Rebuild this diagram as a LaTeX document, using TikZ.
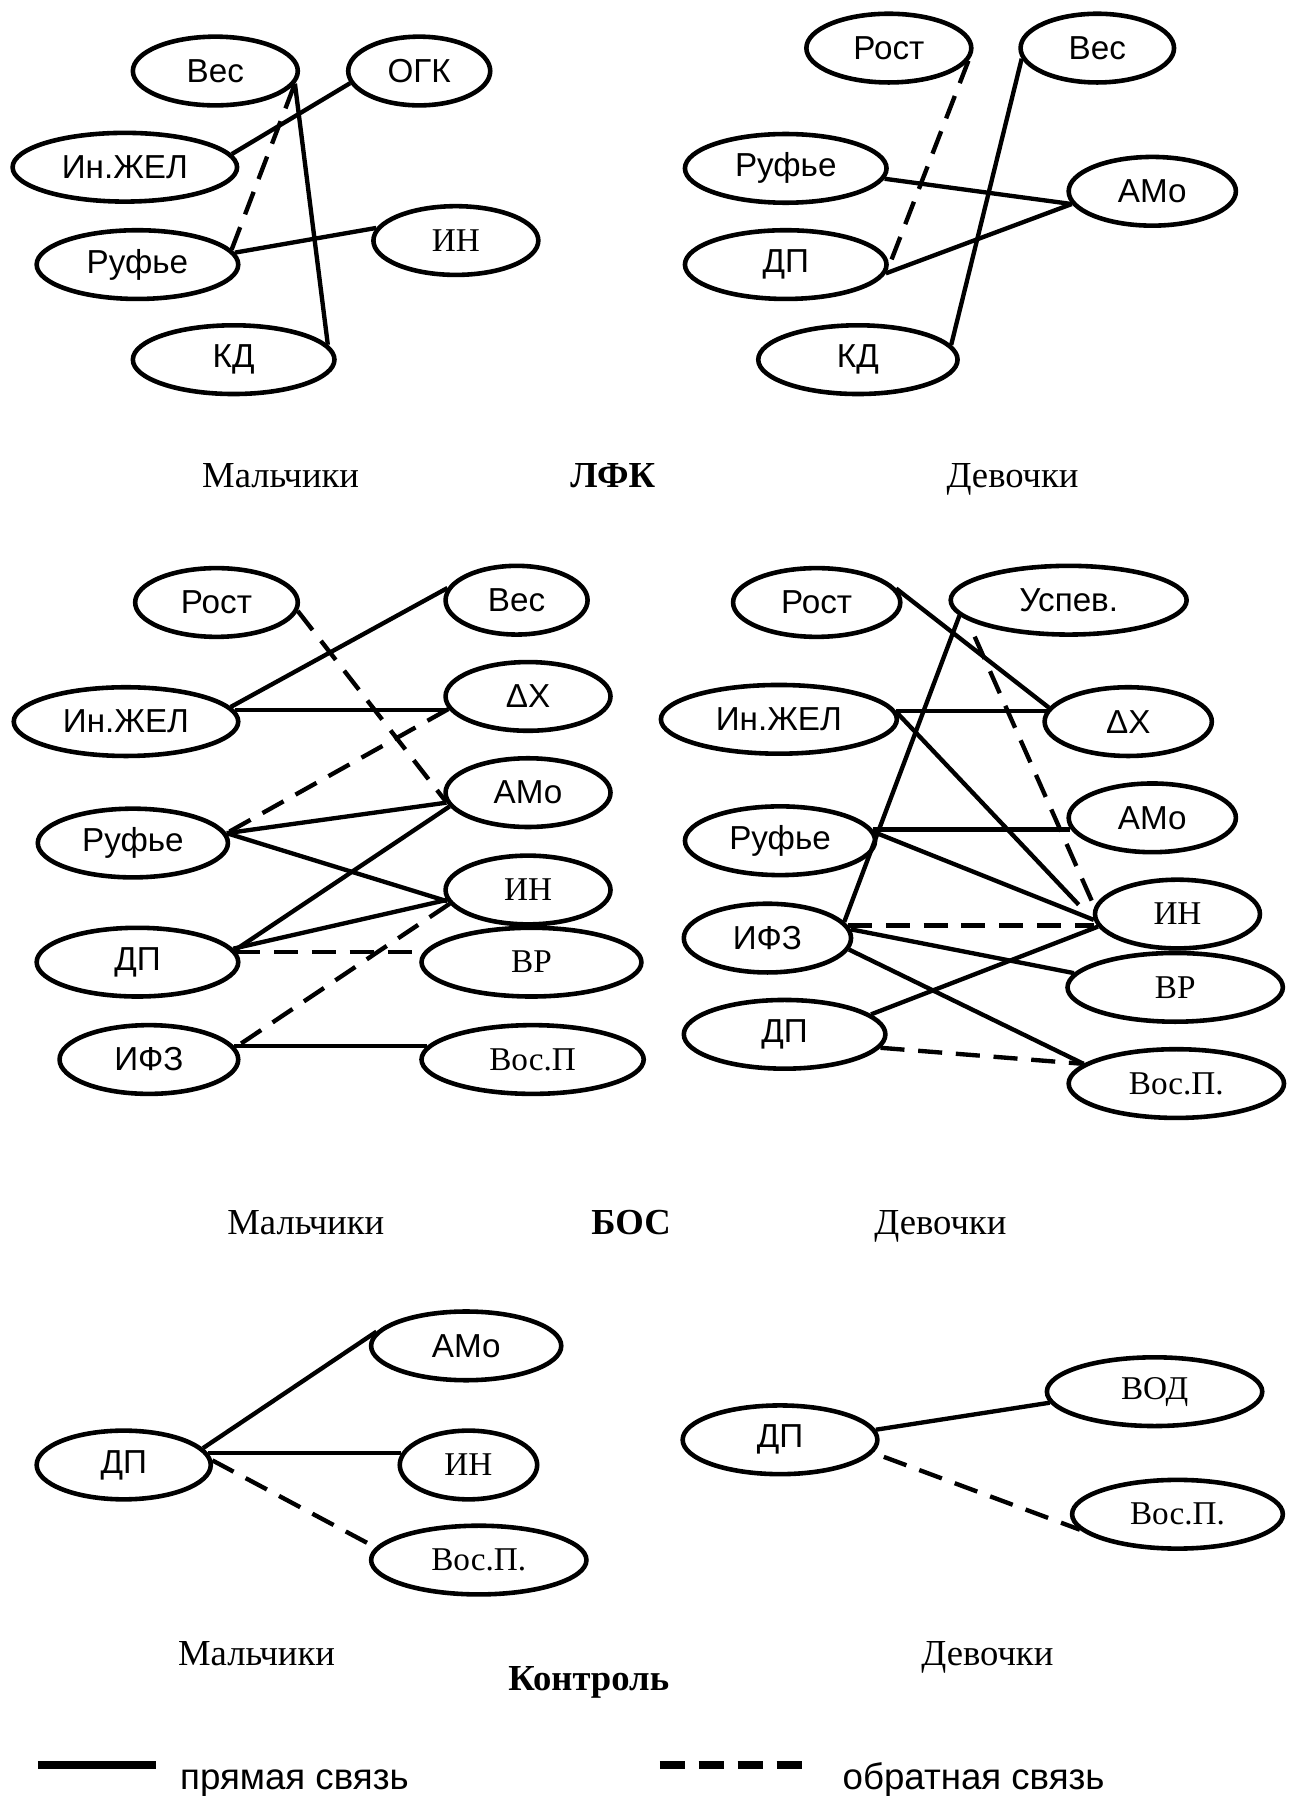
\documentclass[tikz,border=0pt]{standalone}
\usepackage{fontspec}
\setmainfont{Liberation Serif}
\setsansfont{Liberation Sans}
\usetikzlibrary{shapes.geometric}
\begin{document}
\begin{tikzpicture}[x=0.5pt,y=-0.5pt,
  ell/.style={draw, ellipse, line width=2pt, inner sep=0pt, minimum height=30pt,
    font=\sffamily\fontsize{14.5}{16}\selectfont},
  ells/.style={ell, font=\rmfamily\fontsize{14.5}{16}\selectfont},
  link/.style={line width=1.9pt},
  back/.style={line width=1.9pt, dash pattern=on 10.5pt off 6pt},
  lbl/.style={anchor=base, inner sep=0pt, font=\rmfamily\fontsize{16}{18}\selectfont},
  lblb/.style={lbl, font=\rmfamily\bfseries\fontsize{16}{18}\selectfont},
  leg/.style={anchor=base, inner sep=0pt, font=\sffamily\fontsize{16}{18}\selectfont}]
\useasboundingbox (0,0) rectangle (1135,1568);
\fill[white] (0,0) rectangle (1135,1568);

% ---------- Panel 1: LFK boys
\node[ell,minimum width=72pt] (a1) at (188,62) {Вес};
\node[ell,minimum width=62pt] (a2) at (366,62) {ОГК};
\node[ell,minimum width=98pt] (a3) at (109,146) {Ин.ЖЕЛ};
\node[ell,minimum width=88pt] (a4) at (120,231) {Руфье};
\node[ells,minimum width=72pt] (a5) at (398,210) {ИН};
\node[ell,minimum width=88pt] (a6) at (204,314) {КД};
\draw[link] (a3.7.3) -- (a2.190);
\draw[back] (a4.9.8) -- (a1.-9.3);
\draw[link] (a1.-9.3) -- (a6.9.9);
\draw[link] (a4.7.5) -- (a5.171.5);

% ---------- Panel 2: LFK girls
\node[ell,minimum width=72pt] (b1) at (776,42) {Рост};
\node[ell,minimum width=67pt] (b2) at (958,42) {Вес};
\node[ell,minimum width=88pt] (b3) at (686,147) {Руфье};
\node[ell,minimum width=73pt] (b4) at (1006,167) {АМо};
\node[ell,minimum width=88pt] (b5) at (686,231) {ДП};
\node[ell,minimum width=87pt] (b6) at (749,314) {КД};
\draw[back] (b1.-9.5) -- (b5.-4.2);
\draw[link] (b2.188.5) -- (b6.9.3);
\draw[link] (b3.-6.8) -- (b4.189.3);
\draw[link] (b5.-5.4) -- (b4.189.3);

\node[lbl] (m1) at (245,426) {Мальчики};
\node[lblb] (t1) at (535,426) {ЛФК};
\node[lbl] (g1) at (884,426) {Девочки};

% ---------- Panel 3: BOS boys
\node[ell,minimum width=71pt] (c1) at (189,526) {Рост};
\node[ell,minimum width=62pt] (c2) at (451,524) {Вес};
\node[ell,minimum width=98pt] (c3) at (110,630) {Ин.ЖЕЛ};
\node[ell,minimum width=72pt] (c4) at (461,608) {ΔX};
\node[ell,minimum width=83pt] (c5) at (116,736) {Руфье};
\node[ell,minimum width=72pt] (c6) at (461,692) {АМо};
\node[ells,minimum width=72pt] (c7) at (461,777) {ИН};
\node[ell,minimum width=88pt] (c8) at (120,840) {ДП};
\node[ells,minimum width=96pt] (c9) at (464,840) {ВР};
\node[ell,minimum width=78pt] (c10) at (130,925) {ИФЗ};
\node[ells,minimum width=97pt] (c11) at (465,925) {Вос.П};
\draw[back] (c1.-6.3) -- (c6.186);
\draw[link] (c3.8.6) -- (c2.170.2);
\draw[link] (c3.6.7) -- (c4.188.5 |- c3.6.7);
\draw[back] (c4.189.6) -- (c5.6.7);
\draw[link] (c6.187.5) -- (c5.6.7);
\draw[link] (c5.6.7) -- (c7.188.5);
\draw[link] (c6.190) -- (c8.7.5);
\draw[link] (c8.8.4) -- (c7.187);
\draw[back] (c8.6.5) -- (c9.174 |- c8.6.5);
\draw[back] (c7.190.3) -- (c10.8);
\draw[link] (c10.9.3) -- (c11.173 |- c10.9.3);

% ---------- Panel 4: BOS girls
\node[ell,minimum width=73pt] (d1) at (713,526) {Рост};
\node[ell,minimum width=103pt] (d2) at (933,524) {Успев.};
\node[ell,minimum width=103pt] (d3) at (680,628) {Ин.ЖЕЛ};
\node[ell,minimum width=73pt] (d4) at (985,630) {ΔX};
\node[ell,minimum width=83pt] (d5) at (681,734) {Руфье};
\node[ell,minimum width=73pt] (d6) at (1006,714) {АМо};
\node[ell,minimum width=73pt] (d7) at (670,819) {ИФЗ};
\node[ells,minimum width=72pt] (d8) at (1028,798) {ИН};
\node[ells,minimum width=94pt] (d9) at (1026,862) {ВР};
\node[ell,minimum width=88pt] (d10) at (685,903) {ДП};
\node[ells,minimum width=94pt] (d11) at (1027,946) {Вос.П.};
\draw[link] (d1.10.1) -- (d4.170);
\draw[link] (d3.4.9) -- (d4.170 |- d3.4.9);
\draw[link] (d2.188.2) -- (d7.12);
\draw[back, shorten <=8pt] (d2.191) -- (d8.175);
\draw[link, shorten >=10pt] (d3.3.2) -- (d8.185);
\draw[link] (d5.7.3) -- (d6.187 |- d5.7.3);
\draw[link] (d5.5) -- (d8.184);
\draw[back] (d7.9) -- (d8.184 |- d7.9);
\draw[link] (d7.6.8) -- (d9.172.8);
\draw[link] (d7.-8.3) -- (d11.168.8);
\draw[link] (d10.13.7) -- (d8.189);
\draw[back] (d10.-8) -- (d11.168.8);

\node[lbl] (m2) at (267,1078) {Мальчики};
\node[lblb] (t2) at (551,1078) {БОС};
\node[lbl] (g2) at (821,1078) {Девочки};

% ---------- Panel 5: control boys
\node[ell,minimum width=83pt] (e1) at (407,1175) {АМо};
\node[ell,minimum width=76pt] (e2) at (108,1279) {ДП};
\node[ells,minimum width=60pt] (e3) at (409,1279) {ИН};
\node[ells,minimum width=94pt] (e4) at (418,1362) {Вос.П.};
\draw[link] (e2.12.2) -- (e1.171.7);
\draw[link] (e2.8) -- (e3.170 |- e2.8);
\draw[back] (e2.3) -- (e4.173);

% ---------- Panel 6: control girls
\node[ell,minimum width=85pt] (f1) at (681,1257) {ДП};
\node[ells,minimum width=94pt] (f2) at (1008,1215) {ВОД};
\node[ells,minimum width=92pt] (f3) at (1028,1322) {Вос.П.};
\draw[link] (f1.6.8) -- (f2.186);
\draw[back, shorten <=5pt] (f1.-8.9) -- (f3.189.6);

\node[lbl] (m3) at (224,1454) {Мальчики};
\node[lbl] (g3) at (862,1454) {Девочки};
\node[lblb] (t3) at (514,1476) {Контроль};

% ---------- Legend
\coordinate (l1a) at (33,1541);
\coordinate (l1b) at (136,1541);
\draw[line width=3.5pt] (l1a) -- (l1b);
\node[leg] (lt1) at (257,1562) {прямая связь};
\coordinate (l2a) at (576,1541);
\coordinate (l2b) at (702,1541);
\draw[line width=3.5pt, dash pattern=on 11pt off 6pt] (l2a) -- (l2b);
\node[leg] (lt2) at (850,1562) {обратная связь};
\end{tikzpicture}
\end{document}
